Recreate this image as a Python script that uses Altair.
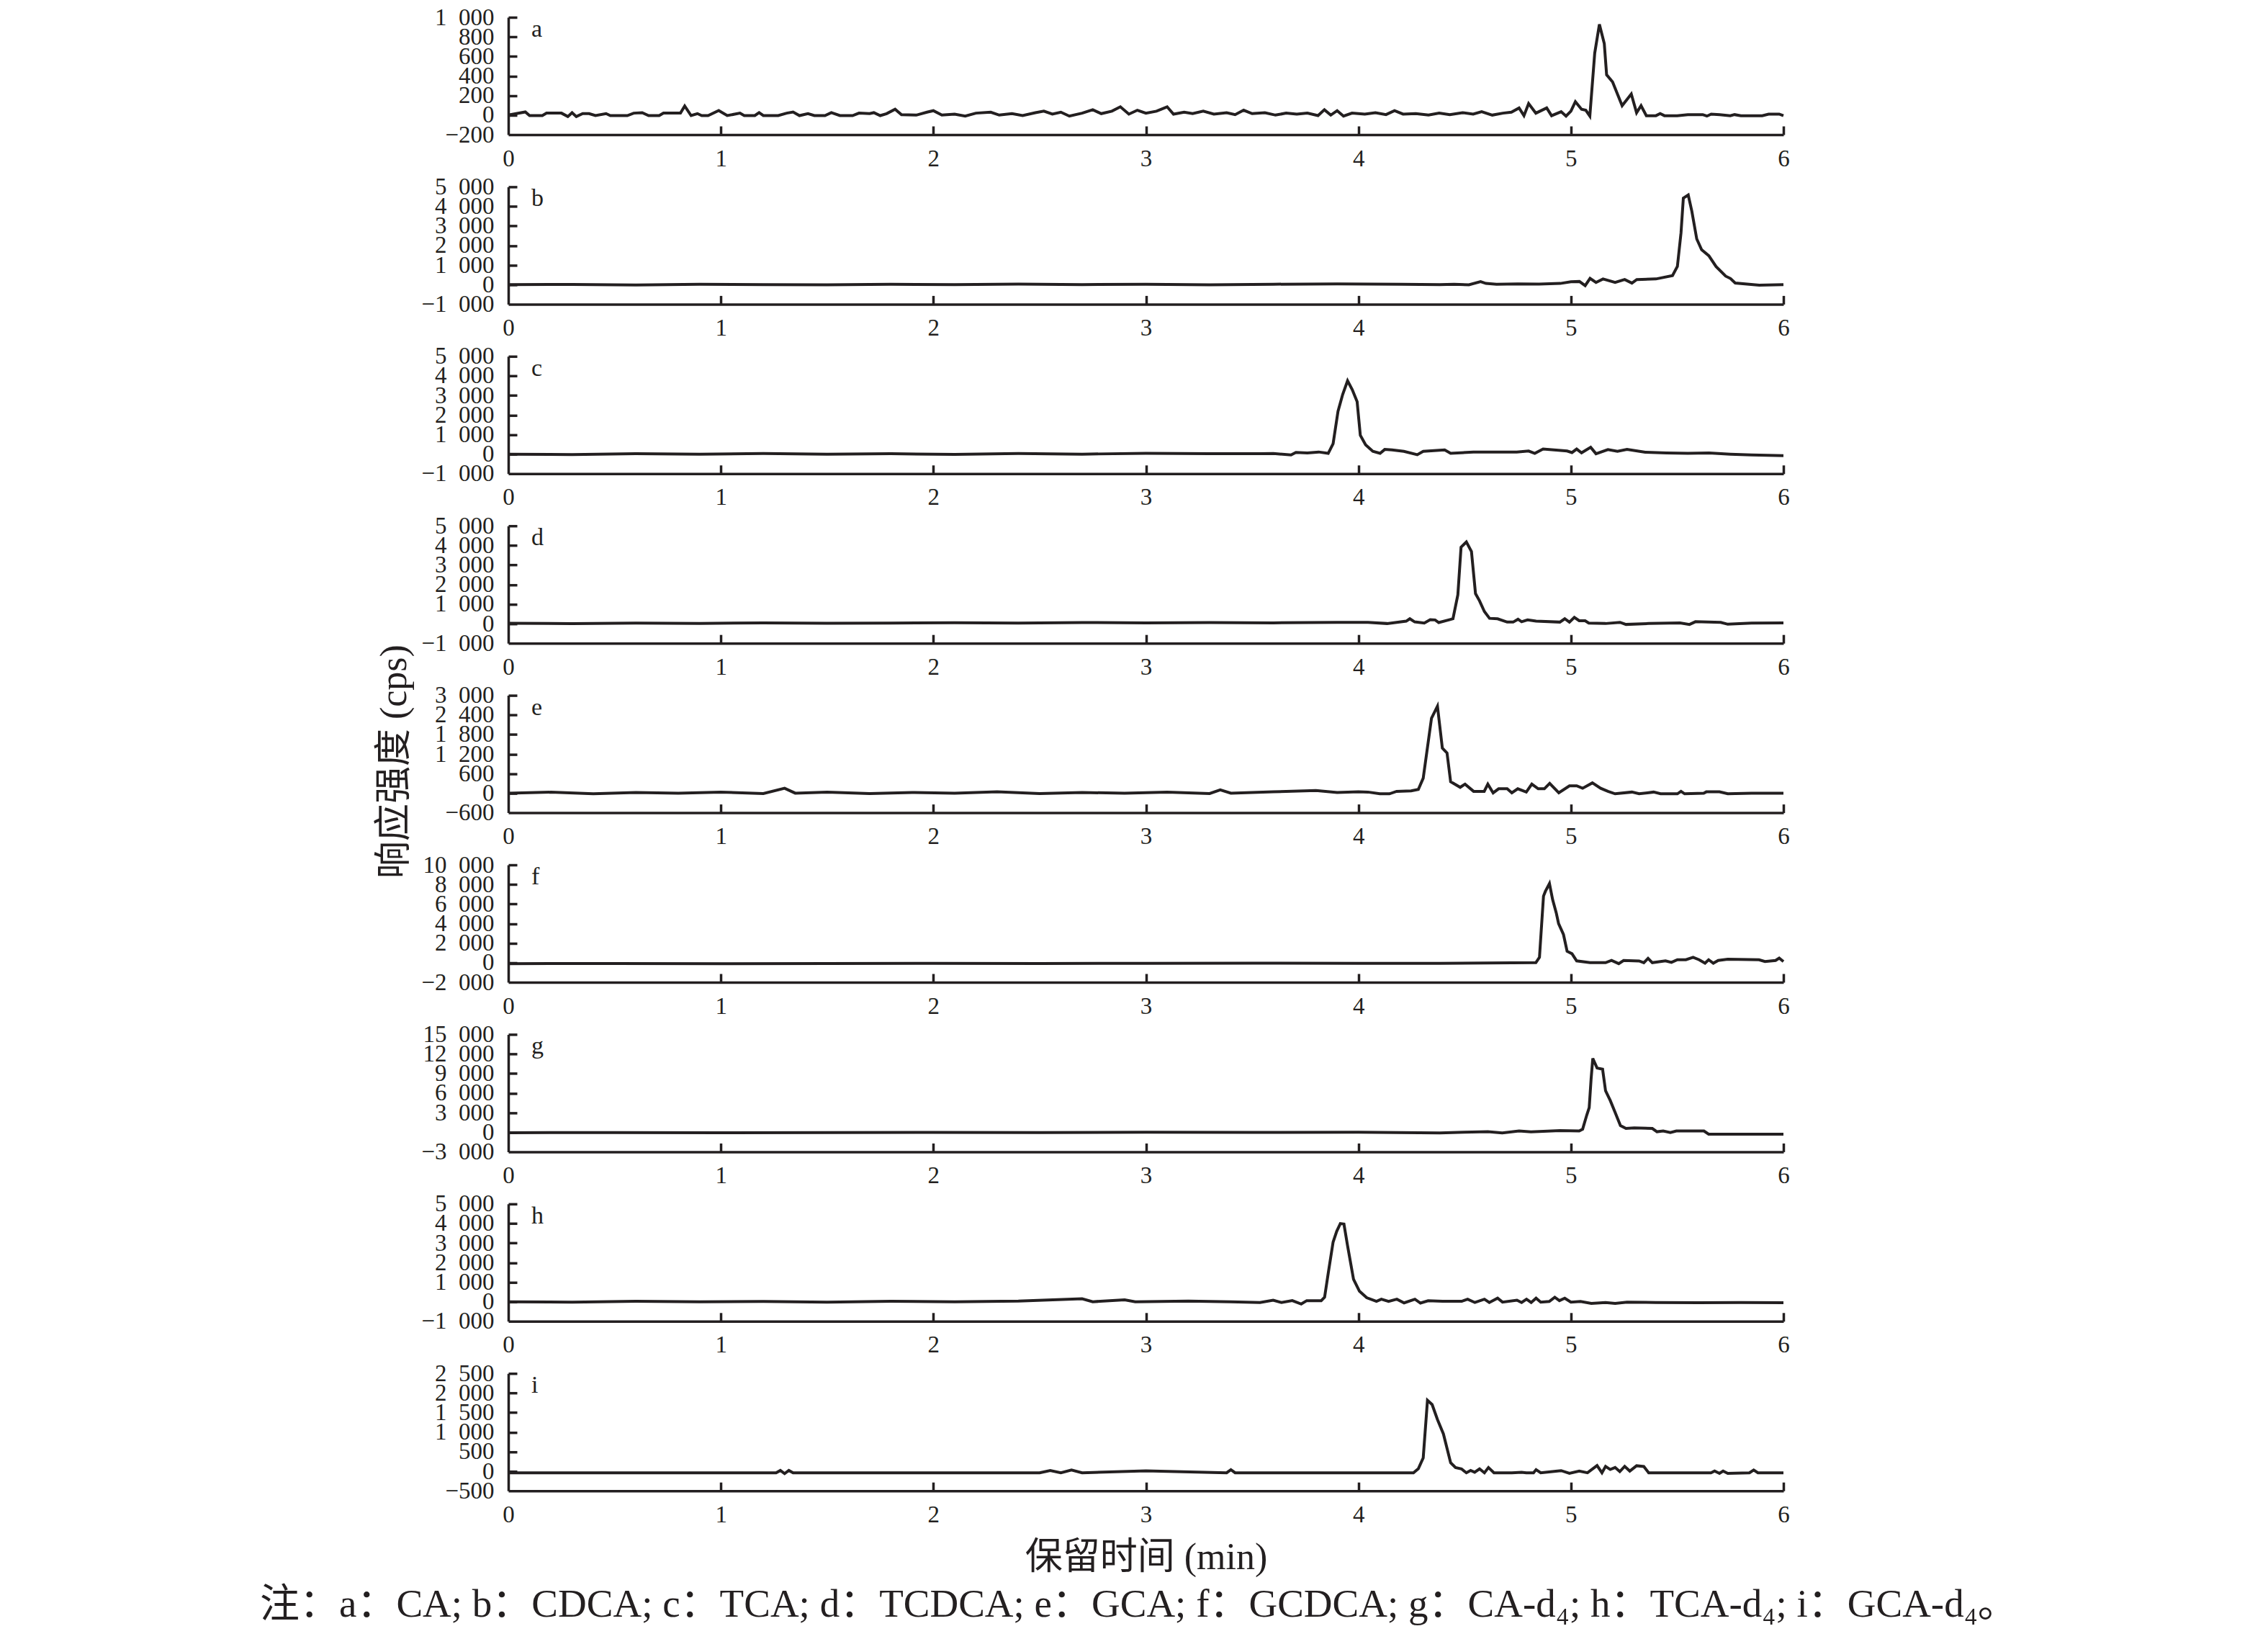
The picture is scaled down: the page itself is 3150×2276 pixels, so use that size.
import altair as alt
import pandas as pd

BLACK = "#231f20"
FONT = "Liberation Serif, DejaVu Serif, Noto Sans CJK SC"
W, H = 1771, 163

LETTERS = ["a", "b", "c", "d", "e", "f", "g", "h", "i"]
X_TICKS = [0, 1, 2, 3, 4, 5, 6]

Y_DOM = [[-200, 1000], [-1000, 5000], [-1000, 5000], [-1000, 5000], [-600, 3000],
         [-2000, 10000], [-3000, 15000], [-1000, 5000], [-500, 2500]]
Y_TICKS = [
    [-200, 0, 200, 400, 600, 800, 1000],
    [-1000, 0, 1000, 2000, 3000, 4000, 5000],
    [-1000, 0, 1000, 2000, 3000, 4000, 5000],
    [-1000, 0, 1000, 2000, 3000, 4000, 5000],
    [-600, 0, 600, 1200, 1800, 2400, 3000],
    [-2000, 0, 2000, 4000, 6000, 8000, 10000],
    [-3000, 0, 3000, 6000, 9000, 12000, 15000],
    [-1000, 0, 1000, 2000, 3000, 4000, 5000],
    [-500, 0, 500, 1000, 1500, 2000, 2500],
]

# a: CA
t_a = [0.00, 0.08, 0.10, 0.16, 0.18, 0.25, 0.28, 0.30, 0.32, 0.35, 0.38, 0.41, 0.46, 0.48,
       0.56, 0.59, 0.63, 0.66, 0.71, 0.73, 0.81, 0.83, 0.86, 0.89, 0.91, 0.94, 0.99, 1.03,
       1.09, 1.11, 1.16, 1.18, 1.20, 1.27, 1.31, 1.34, 1.37, 1.41, 1.44, 1.49, 1.52, 1.56,
       1.62, 1.65, 1.70, 1.72, 1.75, 1.78, 1.82, 1.85, 1.92, 1.97, 2.00, 2.04, 2.10, 2.15,
       2.20, 2.27, 2.31, 2.37, 2.42, 2.48, 2.52, 2.56, 2.60, 2.64, 2.70, 2.75, 2.79, 2.84,
       2.88, 2.92, 2.96, 3.00, 3.05, 3.10, 3.13, 3.18, 3.22, 3.27, 3.32, 3.38, 3.42, 3.46,
       3.50, 3.56, 3.61, 3.66, 3.71, 3.76, 3.81, 3.84, 3.87, 3.90, 3.93, 3.97, 4.03, 4.08,
       4.13, 4.17, 4.21, 4.27, 4.33, 4.38, 4.43, 4.49, 4.54, 4.58, 4.63, 4.68, 4.72, 4.756,
       4.779, 4.801, 4.835, 4.886, 4.909, 4.954, 4.977, 5.000, 5.021, 5.050, 5.070, 5.089,
       5.112, 5.134, 5.157, 5.168, 5.196, 5.241, 5.284, 5.309, 5.330, 5.355, 5.40, 5.42,
       5.44, 5.50, 5.55, 5.62, 5.64, 5.66, 5.70, 5.75, 5.77, 5.80, 5.90, 5.93, 5.98, 6.00]
v_a = [0, 32, -5, -5, 20, 20, -15, 25, -15, 15, 15, -5, 15, -5,
       -5, 20, 25, -5, -5, 20, 20, 93, -5, 15, -5, -5, 47, -5,
       20, -5, -5, 25, -5, -5, 20, 32, -5, 15, -5, -5, 25, -5,
       -5, 20, 15, 25, -5, 15, 60, 5, 0, 30, 45, 0, 10, -10,
       20, 30, 0, 15, -5, 25, 40, 10, 30, -10, 20, 55, 15, 40,
       85, 10, 50, 20, 40, 85, 10, 30, 15, 40, 10, 25, 5, 50,
       15, 25, 0, 20, 10, 20, -5, 55, 0, 45, -10, 20, 10, 25,
       5, 45, 10, 15, 0, 20, 5, 25, 10, 35, 0, 20, 30, 73,
       -6, 118, 20, 73, -6, 35, -10, 40, 137, 60, 50, -10,
       633, 928, 731, 412, 339, 96, 216, 24, 96, -6, -6, 15,
       -6, -6, 5, 5, -10, 10, 5, -6, 5, -6, -6, 10, 10, -6]

# b: CDCA
t_b = [0.00, 0.30, 0.60, 0.90, 1.20, 1.50, 1.80, 2.10, 2.40, 2.70, 3.00, 3.30, 3.60, 3.90,
       4.20, 4.383, 4.45, 4.52, 4.575, 4.60, 4.65, 4.75, 4.85, 4.95, 5.000, 5.040, 5.067,
       5.090, 5.118, 5.151, 5.208, 5.253, 5.287, 5.310, 5.400, 5.478, 5.501, 5.518, 5.529,
       5.552, 5.569, 5.592, 5.615, 5.649, 5.683, 5.728, 5.751, 5.773, 5.886, 6.00]
v_b = [0, 10, -20, 20, 0, -10, 20, 0, 30, 0, 20, -10, 20, 40,
       20, 0, 20, -10, 150, 60, 20, 40, 30, 60, 150, 160, -50,
       320, 110, 290, 110, 260, 80, 260, 290, 460, 930, 2643, 4420,
       4580, 3747, 2336, 1784, 1477, 923, 434, 310, 80, -30, 0]

# c: TCA
t_c = [0.00, 0.30, 0.60, 0.90, 1.20, 1.50, 1.80, 2.10, 2.40, 2.70, 3.00, 3.30, 3.537, 3.60,
       3.683, 3.706, 3.76, 3.813, 3.858, 3.881, 3.904, 3.926, 3.949, 3.971, 3.994, 4.009,
       4.034, 4.068, 4.102, 4.124, 4.158, 4.214, 4.277, 4.305, 4.406, 4.434, 4.541, 4.745,
       4.801, 4.830, 4.869, 4.982, 5.005, 5.027, 5.050, 5.093, 5.118, 5.174, 5.219, 5.264,
       5.35, 5.45, 5.55, 5.65, 5.75, 5.85, 6.00]
v_c = [0, -20, 20, 0, 30, 0, 20, -10, 30, 0, 40, 20, 20, 30,
       -40, 90, 60, 110, 40, 534, 2190, 3049, 3748, 3295, 2681, 962,
       472, 141, 40, 240, 215, 140, -30, 140, 215, 40, 110, 110,
       160, 40, 260, 160, 80, 260, 70, 350, 20, 230, 140, 240,
       100, 60, 40, 60, 0, -40, -80]

# d: TCDCA
t_d = [0.00, 0.30, 0.60, 0.90, 1.20, 1.50, 1.80, 2.10, 2.40, 2.70, 3.00, 3.30, 3.60, 3.90,
       4.045, 4.135, 4.225, 4.242, 4.265, 4.310, 4.338, 4.361, 4.378, 4.428, 4.445, 4.468,
       4.483, 4.508, 4.532, 4.551, 4.570, 4.593, 4.617, 4.655, 4.700, 4.728, 4.751, 4.768,
       4.796, 4.836, 4.948, 4.971, 4.993, 5.016, 5.039, 5.067, 5.084, 5.163, 5.231, 5.259,
       5.366, 5.513, 5.558, 5.586, 5.705, 5.738, 5.85, 6.00]
v_d = [20, 0, 30, 10, 40, 20, 30, 50, 30, 60, 40, 60, 40, 70,
       67, 6, 128, 250, 90, 30, 200, 190, 55, 200, 250, 1478,
       3907, 4178, 3687, 1536, 1168, 616, 271, 250, 80, 80, 225, 100,
       190, 128, 80, 250, 80, 320, 150, 150, 30, 6, 67, -40,
       6, 40, -40, 100, 67, -30, 30, 40]

# e: GCA
t_e = [0.00, 0.20, 0.40, 0.60, 0.80, 1.00, 1.20, 1.30, 1.35, 1.50, 1.70, 1.90, 2.10, 2.30,
       2.50, 2.70, 2.90, 3.10, 3.30, 3.35, 3.40, 3.60, 3.80, 3.90, 4.00, 4.045, 4.101,
       4.146, 4.180, 4.248, 4.282, 4.305, 4.344, 4.372, 4.395, 4.417, 4.434, 4.479, 4.502,
       4.542, 4.592, 4.609, 4.634, 4.660, 4.700, 4.722, 4.750, 4.790, 4.816, 4.846, 4.875,
       4.900, 4.943, 4.993, 5.027, 5.055, 5.101, 5.140, 5.174, 5.208, 5.287, 5.321, 5.389,
       5.422, 5.501, 5.518, 5.535, 5.625, 5.637, 5.699, 5.738, 5.85, 6.00]
v_e = [0, 30, -20, 20, 0, 30, -10, 150, 0, 30, -10, 20, 0, 40,
       -10, 20, 0, 30, -10, 100, 0, 40, 80, 20, 40, 34, -19,
       -19, 55, 70, 114, 460, 2300, 2669, 1381, 1233, 350, 180, 277,
       56, 56, 277, 10, 135, 135, 10, 135, 34, 277, 135, 135,
       300, 10, 225, 225, 150, 315, 150, 55, -19, 34, -19, 34,
       -19, -19, 55, -19, 0, 40, 40, -19, 0, 0]

# f: GCDCA
t_f = [0.00, 0.50, 1.00, 1.50, 2.00, 2.50, 3.00, 3.50, 4.00, 4.383, 4.835, 4.852, 4.871,
       4.880, 4.899, 4.914, 4.931, 4.942, 4.965, 4.982, 5.005, 5.027, 5.090, 5.163, 5.191,
       5.225, 5.248, 5.321, 5.343, 5.363, 5.383, 5.445, 5.473, 5.501, 5.541, 5.575, 5.603,
       5.631, 5.648, 5.670, 5.693, 5.738, 5.885, 5.913, 5.963, 5.980, 6.00]
v_f = [-100, -80, -100, -80, -60, -80, -60, -40, -60, -64, 0, 552, 6810,
       7300, 8086, 6440, 5090, 3986, 2880, 1166, 920, 184, 0, 0, 230,
       -100, 230, 180, 0, 440, 0, 180, 30, 300, 300, 550, 300,
       -50, 300, -50, 230, 350, 300, 120, 230, 470, 120]

# g: CA-d4
t_g = [0.00, 0.50, 1.00, 1.50, 2.00, 2.50, 3.00, 3.50, 4.00, 4.383, 4.496, 4.609, 4.677,
       4.756, 4.812, 4.948, 5.039, 5.055, 5.075, 5.086, 5.095, 5.103, 5.123, 5.149, 5.163,
       5.185, 5.208, 5.233, 5.259, 5.298, 5.383, 5.405, 5.434, 5.468, 5.496, 5.626, 5.648, 6.00]
v_g = [-80, -50, -80, -50, -20, -50, 0, -30, 0, -100, 0, 80, -100,
       200, 60, 250, 180, 460, 2670, 3770, 8190, 11320, 9840, 9660, 6350,
       4870, 3040, 1010, 570, 650, 570, 70, 180, -60, 180, 180, -300, -300]

# h: TCA-d4
t_h = [0.00, 0.30, 0.60, 0.90, 1.20, 1.50, 1.80, 2.10, 2.40, 2.70, 2.75, 2.90, 2.95, 3.20,
       3.40, 3.537, 3.599, 3.638, 3.689, 3.731, 3.757, 3.825, 3.841, 3.858, 3.881, 3.898,
       3.915, 3.932, 3.949, 3.977, 4.005, 4.039, 4.085, 4.108, 4.142, 4.181, 4.215, 4.266,
       4.292, 4.328, 4.396, 4.486, 4.514, 4.548, 4.593, 4.616, 4.655, 4.678, 4.746, 4.768,
       4.791, 4.813, 4.836, 4.858, 4.898, 4.924, 4.946, 4.971, 5.000, 5.045, 5.096, 5.163,
       5.208, 5.264, 5.40, 5.60, 5.80, 6.00]
v_h = [0, -20, 20, 0, 10, -20, 20, 0, 30, 150, 0, 100, 0, 30,
       0, -40, 80, -40, 55, -115, 55, 55, 229, 1455, 3049, 3601,
       3995, 3969, 2865, 1150, 535, 204, 20, 130, 20, 130, -60, 130,
       -70, 50, 20, 20, 130, -40, 130, -40, 180, -20, 80, -40,
       130, -40, 180, -20, 10, 230, 55, 180, -20, 10, -90, -40,
       -90, -20, -40, -50, -40, -50]

# i: GCA-d4
t_i = [0.00, 1.26, 1.28, 1.30, 1.32, 1.34, 2.50, 2.55, 2.60, 2.65, 2.70, 3.00, 3.38, 3.40,
       3.42, 4.045, 4.259, 4.282, 4.305, 4.325, 4.347, 4.372, 4.400, 4.434, 4.457, 4.485,
       4.508, 4.528, 4.547, 4.570, 4.593, 4.612, 4.638, 4.722, 4.768, 4.790, 4.824, 4.836,
       4.858, 4.937, 4.954, 4.993, 5.039, 5.078, 5.123, 5.146, 5.163, 5.185, 5.208, 5.230,
       5.253, 5.277, 5.309, 5.343, 5.366, 5.659, 5.676, 5.699, 5.716, 5.738, 5.84, 5.86,
       5.88, 6.00]
v_i = [-40, -40, 20, -60, 20, -40, -40, 20, -40, 30, -40, 10, -40, 40,
       -40, -40, -40, 65, 341, 1813, 1703, 1322, 954, 218, 95, 60,
       -40, 20, -25, 60, -40, 95, -40, -40, -25, -40, -40, 40,
       -40, 5, 15, -55, 5, -40, 144, -40, 125, 45, 95, -10,
       125, 5, 140, 120, -40, -40, 5, -55, 5, -55, -40, 30,
       -40, -40]

T = [t_a, t_b, t_c, t_d, t_e, t_f, t_g, t_h, t_i]
V = [v_a, v_b, v_c, v_d, v_e, v_f, v_g, v_h, v_i]

Y_TITLE = "响应强度 (cps)"
X_TITLE = "保留时间 (min)"
CAPTION = "注：a：CA; b：CDCA; c：TCA; d：TCDCA; e：GCA; f：GCDCA; g：CA-d₄; h：TCA-d₄; i：GCA-d₄。"

LABEL_EXPR = "replace(format(datum.value, ','), ',', '\u2002')"
TICK_FS = 33


def text_layer(s, x, y, size, align="center", baseline="middle", angle=0):
    mk = dict(font=FONT, fontSize=size, color=BLACK, align=align, baseline=baseline)
    if angle:
        mk["angle"] = angle
    return alt.Chart(pd.DataFrame({"s": [s]})).mark_text(**mk).encode(
        text="s:N", x=alt.value(x), y=alt.value(y))


def panel(k, extras):
    df = pd.DataFrame({"t": T[k], "v": V[k]})
    lo, hi = Y_DOM[k]
    xs = alt.Scale(domain=[0, 6], nice=False, zero=False)
    ys = alt.Scale(domain=[lo, hi], nice=False, zero=False)
    base = alt.Chart(df)
    line = base.mark_line(color=BLACK, strokeWidth=4).encode(
        x=alt.X("t:Q", scale=xs, axis=alt.Axis(
            values=X_TICKS, title=None, grid=False, ticks=False, tickSize=0,
            domainColor=BLACK, domainWidth=3.5, labelFont=FONT, labelFontSize=TICK_FS,
            labelColor=BLACK, labelPadding=17, labelFlush=False, labelOverlap=False)),
        y=alt.Y("v:Q", scale=ys, axis=alt.Axis(
            values=Y_TICKS[k], title=None, grid=False, ticks=False, tickSize=0,
            domainColor=BLACK, domainWidth=3.5, labelFont=FONT, labelFontSize=TICK_FS,
            labelColor=BLACK, labelPadding=20, labelFlush=False, labelOverlap=False,
            labelExpr=LABEL_EXPR)),
    )
    inward = base.mark_line(opacity=0).encode(
        x=alt.X("t:Q", scale=xs, axis=alt.Axis(
            orient="top", offset=-H, values=X_TICKS[1:], labels=False, domain=False,
            grid=False, title=None, tickSize=12, tickWidth=3.5, tickColor=BLACK)),
        y=alt.Y("v:Q", scale=ys, axis=alt.Axis(
            orient="right", offset=-W, values=Y_TICKS[k][1:], labels=False, domain=False,
            grid=False, title=None, tickSize=12, tickWidth=3.5, tickColor=BLACK)),
    )
    letter = text_layer(LETTERS[k], 32, 27, 34, align="left", baseline="alphabetic")
    return alt.layer(line, inward, letter, *extras).resolve_axis(
        x="independent", y="independent").properties(width=W, height=H)


panels = []
for k in range(9):
    extras = []
    if k == 4:
        extras.append(text_layer(Y_TITLE, -158, 92, 52, angle=270))
    if k == 8:
        extras.append(text_layer(X_TITLE, 886, 256, 52))
        extras.append(text_layer(CAPTION, -345, 321, 55, align="left"))
    panels.append(panel(k, extras))

chart = alt.vconcat(*panels, spacing=72.4, bounds="flush").properties(
    padding={"left": 353, "top": 0, "right": 10, "bottom": 10},
    background="white",
).configure_view(stroke=None)

chart.save("out.html", embed_options={"renderer": "svg", "actions": False})
